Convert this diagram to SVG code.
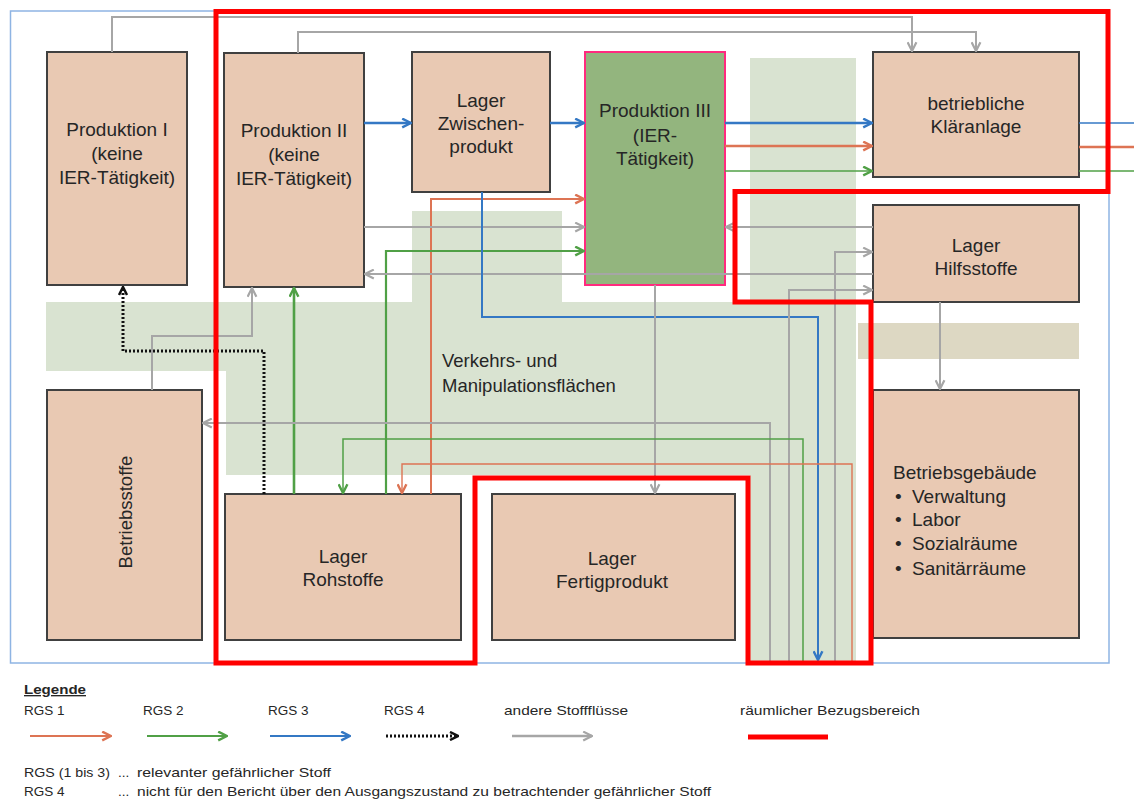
<svg xmlns="http://www.w3.org/2000/svg" width="1134" height="801" viewBox="0 0 1134 801">
<style>
.node{fill:#e9c9b3;stroke:#404040;stroke-width:2}
.t{font-family:"Liberation Sans",Arial,sans-serif;font-size:19px;fill:#262626}
.tc{text-anchor:middle}
.lg{font-family:"Liberation Sans",Arial,sans-serif;font-size:13.5px;fill:#262626}
.c{fill:none;stroke-linejoin:miter}
.gr{stroke:#a6a6a6;stroke-width:2}
.bl{stroke:#3478c4;stroke-width:2.5}
.or{stroke:#dd7454;stroke-width:2}
.gn{stroke:#50a046;stroke-width:2}
.dk{stroke:#111;stroke-width:3;stroke-dasharray:2 2}
</style>
<defs>
<marker id="aGr" viewBox="0 0 10 10" refX="9" refY="5" markerWidth="11" markerHeight="11" markerUnits="userSpaceOnUse" orient="auto"><path d="M1,1 L9,5 L1,9" fill="none" stroke="#a6a6a6" stroke-width="2"/></marker>
<marker id="aBl" viewBox="0 0 10 10" refX="9" refY="5" markerWidth="11" markerHeight="11" markerUnits="userSpaceOnUse" orient="auto"><path d="M1,1 L9,5 L1,9" fill="none" stroke="#3478c4" stroke-width="2.2"/></marker>
<marker id="aOr" viewBox="0 0 10 10" refX="9" refY="5" markerWidth="11" markerHeight="11" markerUnits="userSpaceOnUse" orient="auto"><path d="M1,1 L9,5 L1,9" fill="none" stroke="#dd7454" stroke-width="2.2"/></marker>
<marker id="aGn" viewBox="0 0 10 10" refX="9" refY="5" markerWidth="11" markerHeight="11" markerUnits="userSpaceOnUse" orient="auto"><path d="M1,1 L9,5 L1,9" fill="none" stroke="#50a046" stroke-width="2.2"/></marker>
<marker id="aDk" viewBox="0 0 10 10" refX="9" refY="5" markerWidth="10" markerHeight="10" markerUnits="userSpaceOnUse" orient="auto"><path d="M1,1 L9,5 L1,9" fill="none" stroke="#111" stroke-width="2.5"/></marker>
</defs>
<rect width="1134" height="801" fill="#ffffff"/>
<g id="areas">
<path d="M412,211 H562 V302 H750 V58 H856 V663 H750 V475 H226 V371 H46 V302 H412 Z" fill="#d9e3d1"/>
<rect x="858" y="323" width="221" height="36" fill="#ddd8c3"/>
<rect x="10.5" y="11" width="1098.5" height="652" fill="none" stroke="#8eb4e3" stroke-width="1.5"/>
<text class="t" x="442" y="367" style="font-size:18.5px">Verkehrs- und</text>
<text class="t" x="442" y="392" style="font-size:18.5px">Manipulationsflächen</text>
</g>
<g id="n-prod1"><rect class="node" x="47" y="52" width="140" height="233"/>
<text class="t tc" x="117" y="136">Produktion I</text><text class="t tc" x="117" y="160">(keine</text><text class="t tc" x="117" y="184">IER-Tätigkeit)</text></g>
<g id="n-prod2"><rect class="node" x="224" y="53" width="140" height="234"/>
<text class="t tc" x="294" y="137">Produktion II</text><text class="t tc" x="294" y="161">(keine</text><text class="t tc" x="294" y="185">IER-Tätigkeit)</text></g>
<g id="n-zwischen"><rect class="node" x="412" y="52" width="138" height="140"/>
<text class="t tc" x="481" y="107">Lager</text><text class="t tc" x="481" y="130">Zwischen-</text><text class="t tc" x="481" y="153">produkt</text></g>
<g id="n-prod3"><rect x="585" y="52" width="140" height="233" fill="#93b57e" stroke="#ff2a7f" stroke-width="2"/>
<text class="t tc" x="655" y="117">Produktion III</text><text class="t tc" x="655" y="142">(IER-</text><text class="t tc" x="655" y="165">Tätigkeit)</text></g>
<g id="n-klaer"><rect class="node" x="873" y="52" width="206" height="125"/>
<text class="t tc" x="976" y="110">betriebliche</text><text class="t tc" x="976" y="133">Kläranlage</text></g>
<g id="n-hilfs"><rect class="node" x="873" y="205" width="206" height="97"/>
<text class="t tc" x="976" y="252">Lager</text><text class="t tc" x="976" y="275">Hilfsstoffe</text></g>
<g id="n-gebaeude"><rect class="node" x="873" y="390" width="206" height="248"/>
<text class="t" x="893" y="479">Betriebsgebäude</text>
<text class="t" x="895" y="503">•</text><text class="t" x="912" y="503">Verwaltung</text>
<text class="t" x="895" y="526">•</text><text class="t" x="912" y="526">Labor</text>
<text class="t" x="895" y="550">•</text><text class="t" x="912" y="550">Sozialräume</text>
<text class="t" x="895" y="575">•</text><text class="t" x="912" y="575">Sanitärräume</text></g>
<g id="n-betriebsstoffe"><rect class="node" x="47" y="390" width="155" height="250"/>
<text class="t tc" transform="translate(132,512) rotate(-90)" style="font-size:18.5px">Betriebsstoffe</text></g>
<g id="n-roh"><rect class="node" x="225" y="494" width="236" height="146"/>
<text class="t tc" x="343" y="563">Lager</text><text class="t tc" x="343" y="586">Rohstoffe</text></g>
<g id="n-fertig"><rect class="node" x="492" y="494" width="243" height="146"/>
<text class="t tc" x="612" y="565">Lager</text><text class="t tc" x="612" y="588">Fertigprodukt</text></g>
<g id="connectors">
<path class="c gr" d="M112,52 V17 H912 V51" marker-end="url(#aGr)"/>
<path class="c gr" d="M298,53 V32 H976 V51" marker-end="url(#aGr)"/>
<path class="c bl" d="M364,123 H411" marker-end="url(#aBl)"/>
<path class="c bl" d="M550,123 H584" marker-end="url(#aBl)"/>
<path class="c bl" d="M725,123 H872" marker-end="url(#aBl)"/>
<path class="c or" d="M725,146 H872" style="stroke-width:2.5" marker-end="url(#aOr)"/>
<path class="c gn" d="M725,171 H872" style="stroke-width:1.6" marker-end="url(#aGn)"/>
<path class="c bl" d="M1079,123 H1134" style="stroke-width:1.6"/>
<path class="c or" d="M1079,147 H1134" style="stroke-width:2.5"/>
<path class="c gn" d="M1079,171 H1134" style="stroke-width:1.4"/>
<path class="c or" d="M431,494 V199 H584" marker-end="url(#aOr)"/>
<path class="c gr" d="M364,227 H584" marker-end="url(#aGr)"/>
<path class="c gn" d="M386,494 V251 H584" style="stroke-width:2.2" marker-end="url(#aGn)"/>
<path class="c gr" d="M873,274 H365" marker-end="url(#aGr)"/>
<path class="c gr" d="M873,227 H726" marker-end="url(#aGr)"/>
<path class="c bl" d="M482,192 V317 H818 V660" style="stroke-width:2" marker-end="url(#aBl)"/>
<path class="c gr" d="M655,285 V493" marker-end="url(#aGr)"/>
<path class="c gr" d="M940,302 V389" marker-end="url(#aGr)"/>
<path class="c gr" d="M152,390 V336 H252 V288" marker-end="url(#aGr)"/>
<path class="c gn" d="M294,494 V288" style="stroke-width:2.6" marker-end="url(#aGn)"/>
<path class="c dk" d="M264,494 V351 H123 V287" marker-end="url(#aDk)"/>
<path class="c gr" d="M770,663 V423 H203" marker-end="url(#aGr)"/>
<path class="c gr" d="M789,663 V290 H872" marker-end="url(#aGr)"/>
<path class="c gn" d="M803,663 V439 H343 V493" style="stroke-width:1.5" marker-end="url(#aGn)"/>
<path class="c gr" d="M835,663 V252 H872" marker-end="url(#aGr)"/>
<path class="c or" d="M852,663 V464 H402 V493" style="stroke-width:1.4" marker-end="url(#aOr)"/>
</g>
<g id="bezugsbereich">
<path d="M216,11.5 H1108 V191.5 H735 V302 H871 V663 H748 V478 H475 V663 H216 Z" fill="none" stroke="#ff0000" stroke-width="5" stroke-linejoin="miter"/>
</g>
<g id="legend">
<text class="lg" x="24" y="694" style="font-weight:bold;text-decoration:underline" textLength="62" lengthAdjust="spacingAndGlyphs">Legende</text>
<text class="lg" x="24" y="715">RGS 1</text>
<text class="lg" x="143" y="715">RGS 2</text>
<text class="lg" x="268" y="715">RGS 3</text>
<text class="lg" x="384" y="715">RGS 4</text>
<text class="lg" x="504" y="715" textLength="124" lengthAdjust="spacingAndGlyphs">andere Stoffflüsse</text>
<text class="lg" x="740" y="715" textLength="180" lengthAdjust="spacingAndGlyphs">räumlicher Bezugsbereich</text>
<path class="c or" d="M30,736 H111" marker-end="url(#aOr)"/>
<path class="c gn" d="M147,736 H227" marker-end="url(#aGn)"/>
<path class="c bl" d="M270,736 H350" style="stroke-width:2.2" marker-end="url(#aBl)"/>
<path class="c dk" d="M386,736 H458" marker-end="url(#aDk)"/>
<path class="c gr" d="M512,736 H592" style="stroke-width:2.5" marker-end="url(#aGr)"/>
<path d="M748,737 H828" stroke="#ff0000" stroke-width="5"/>
<text class="lg" x="24" y="777" textLength="86" lengthAdjust="spacingAndGlyphs">RGS (1 bis 3)</text>
<text class="lg" x="118" y="777">...</text>
<text class="lg" x="137" y="777" textLength="194" lengthAdjust="spacingAndGlyphs">relevanter gefährlicher Stoff</text>
<text class="lg" x="24" y="796">RGS 4</text>
<text class="lg" x="118" y="796">...</text>
<text class="lg" x="137" y="796" textLength="574" lengthAdjust="spacingAndGlyphs">nicht für den Bericht über den Ausgangszustand zu betrachtender gefährlicher Stoff</text>
</g>
</svg>
